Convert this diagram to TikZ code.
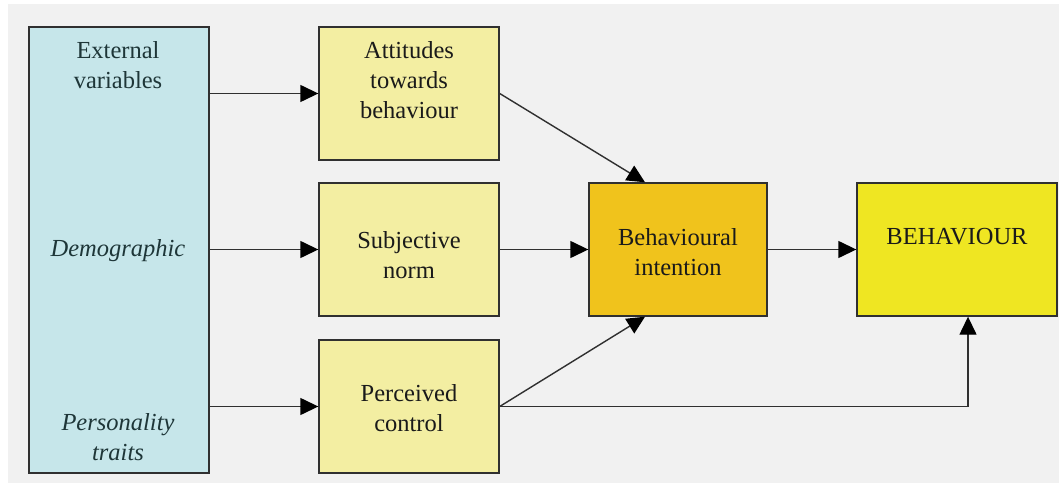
\documentclass[tikz,border=0pt]{standalone}
\usepackage{fontspec}
\setmainfont{Liberation Serif}
\usetikzlibrary{arrows.meta}
\definecolor{bgpanel}{HTML}{F1F1F1}
\definecolor{extfill}{HTML}{C6E6EA}
\definecolor{palefill}{HTML}{F3EEA2}
\definecolor{intentfill}{HTML}{F0C31C}
\definecolor{behfill}{HTML}{EFE622}
\definecolor{edge}{HTML}{303030}
\definecolor{inktext}{HTML}{1A1A1A}
\definecolor{slatetext}{HTML}{1E3638}
\begin{document}
\begin{tikzpicture}[x=1pt,y=1pt,
  box/.style={draw=edge,line width=1.4pt,minimum width=180pt,minimum height=133pt,inner sep=0pt,anchor=center},
  lbl/.style={align=center,font=\fontsize{24.5}{30}\selectfont,text=inktext,inner sep=0pt},
  conn/.style={draw=edge,line width=1.4pt,-{Triangle[length=18pt,width=17pt,color=black]}}]
  \useasboundingbox (0,0) rectangle (1059,485);
  \fill[white] (0,0) rectangle (1059,485);
  \fill[bgpanel] (8,2) rectangle (1059,481);

  % boxes (centres in pixel grid, y measured upward)
  \node[box,fill=extfill,minimum height=446pt] (ext) at (119,235) {};
  \node[box,fill=palefill] (att) at (409,391.5) {};
  \node[box,fill=palefill] (sn)  at (409,235.5) {};
  \node[box,fill=palefill] (pc)  at (409,78.5) {};
  \node[box,fill=intentfill,minimum width=178pt] (bi) at (678,235.5) {};
  \node[box,fill=behfill,minimum width=200pt] (beh) at (957,235.5) {};

  % texts
  \node[lbl,text=slatetext] (t1) at (118,420) {External\\variables};
  \node[lbl,text=slatetext,font=\fontsize{24.5}{30}\selectfont\itshape] (t2) at (118,234) {Demographic};
  \node[lbl,text=slatetext,font=\fontsize{24.5}{30}\selectfont\itshape] (t3) at (118,48) {Personality\\traits};
  \node[lbl] (t4) at (409,405) {Attitudes\\towards\\behaviour};
  \node[lbl] (t5) at (409,230) {Subjective\\norm};
  \node[lbl] (t6) at (409,77) {Perceived\\control};
  \node[lbl] (t7) at (678,233) {Behavioural\\intention};
  \node[lbl] (t8) at (957,248) {BEHAVIOUR};

  % connectors
  \draw[conn] (ext.east |- att.east) -- (att.west);
  \draw[conn] (ext.east |- sn.east) -- (sn.west);
  \draw[conn] (ext.east |- pc.east) -- (pc.west);
  \draw[conn] (att.east) -- ([xshift=-33pt]bi.north);
  \draw[conn] (sn.east) -- (bi.west);
  \draw[conn] (pc.east) -- ([xshift=-33pt]bi.south);
  \draw[conn] (bi.east) -- (beh.west);
  \draw[conn] (pc.east) -| ([xshift=11pt]beh.south);
\end{tikzpicture}
\end{document}
